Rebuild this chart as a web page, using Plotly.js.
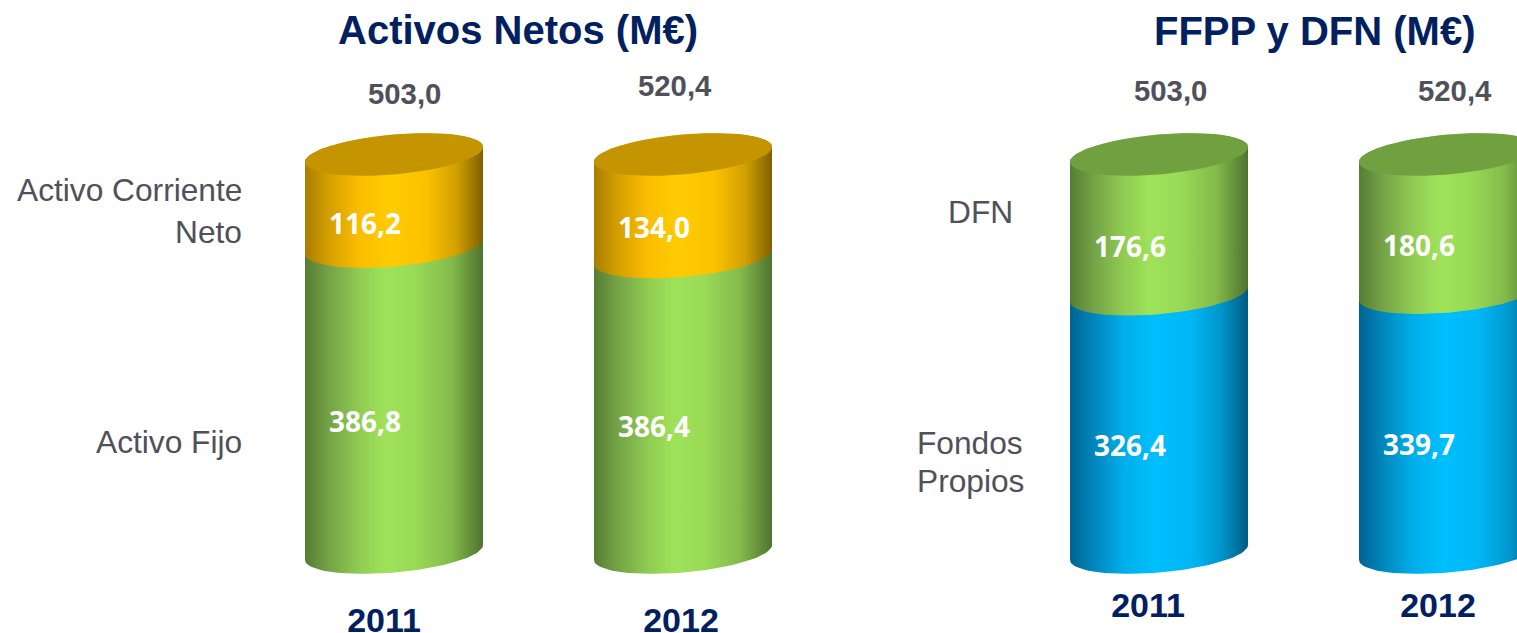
<!DOCTYPE html>
<html><head><meta charset="utf-8">
<script src="https://cdn.plot.ly/plotly-3.0.1.min.js"></script>
<style>html,body{margin:0;padding:0;background:#fff;overflow:hidden}#c{width:1517px;height:633px}</style>
</head><body><div id="c"></div>
<script>
// ---- data ----
var years = ['2011', '2012'];
var activoFijo = [386.8, 386.4];
var activoCorriente = [116.2, 134.0];
var fondosPropios = [326.4, 339.7];
var dfn = [176.6, 180.6];
var totalsLeft = [503.0, 520.4];
var totalsRight = [503.0, 520.4];
var titleLeft = 'Activos Netos (M€)';
var titleRight = 'FFPP y DFN (M€)';

// ---- styling ----
var W = 1517, H = 633, PLOT_H = 582;
var PX_PER_X = 289, PX_PER_Y = 3.98;
var HALF_W = 89 / PX_PER_X, TILT = 7.5 / PX_PER_Y, SEMI = 20 / PX_PER_Y;
var NAVY = '#002060', GREY = '#50505a';
var SANS = '"Liberation Sans", Arial, sans-serif';
var LABEL = '"Open Sans", sans-serif';
var gradGreen = [[0,'#557d33'],[0.12,'#729f45'],[0.3,'#8fcb52'],[0.45,'#9fe25a'],[0.62,'#99da56'],[0.82,'#84bb4b'],[1,'#4f7330']];
var gradOrange = [[0,'#a87c00'],[0.12,'#d19c00'],[0.3,'#fbbd00'],[0.48,'#ffcc00'],[0.68,'#fcc100'],[0.85,'#d2a000'],[1,'#7f6000']];
var gradBlue = [[0,'#00638f'],[0.12,'#0083b8'],[0.3,'#00aee8'],[0.48,'#00bfff'],[0.68,'#00b6f4'],[0.85,'#0096cb'],[1,'#005a80']];
var capOrange = '#c49500', capGreen = '#70a040';

function arc(cx, yc, from, to) {
  var xs = [], ys = [];
  for (var i = 0; i <= 48; i++) {
    var t = from + (to - from) * i / 48;
    xs.push(cx + HALF_W * Math.cos(t));
    ys.push(yc + TILT * Math.cos(t) + SEMI * Math.sin(t));
  }
  return {x: xs, y: ys};
}
function bodyTrace(cx, y0, y1, grad, xa, ya) {
  var low = arc(cx, y0, Math.PI, 2 * Math.PI);
  var up = arc(cx, y1, 0, Math.PI);
  return {type:'scatter', mode:'lines', x: low.x.concat(up.x), y: low.y.concat(up.y),
    fill:'toself', fillgradient:{type:'horizontal', colorscale:grad}, line:{width:0},
    hoverinfo:'skip', showlegend:false, xaxis:xa, yaxis:ya};
}
function capTrace(cx, y, color, xa, ya) {
  var c = arc(cx, y, 0, 2 * Math.PI);
  return {type:'scatter', mode:'lines', x:c.x, y:c.y, fill:'toself', fillcolor:color, line:{width:0},
    hoverinfo:'skip', showlegend:false, xaxis:xa, yaxis:ya};
}
function barTrace(name, vals, color, xa, ya) {
  return {type:'bar', name:name, x:[0,1], y:vals, width:0.5, marker:{color:color,line:{width:0}},
    hoverinfo:'skip', showlegend:false, xaxis:xa, yaxis:ya};
}
function cylinders(lower, upper, gradLow, gradUp, cap, xa, ya) {
  var out = [];
  lower.forEach(function (v, i) {
    var share = 100 * v / (v + upper[i]);
    out.push(bodyTrace(i, 0, share + 1, gradLow, xa, ya));
    out.push(bodyTrace(i, share, 100, gradUp, xa, ya));
    out.push(capTrace(i, 100, cap, xa, ya));
  });
  return out;
}
var data = [
  barTrace('Activo Fijo', activoFijo, '#8cc750', 'x', 'y'),
  barTrace('Activo Corriente Neto', activoCorriente, '#fbbd00', 'x', 'y'),
  barTrace('Fondos Propios', fondosPropios, '#00aee8', 'x2', 'y2'),
  barTrace('DFN', dfn, '#8cc750', 'x2', 'y2')
].concat(
  cylinders(activoFijo, activoCorriente, gradGreen, gradOrange, capOrange, 'x', 'y'),
  cylinders(fondosPropios, dfn, gradBlue, gradGreen, capGreen, 'x2', 'y2')
);

function num(v) { return v.toFixed(1).replace('.', ','); }
function ann(text, px, py, size, color, bold, anchor, family) {
  return {text: bold ? '<b>' + text + '</b>' : text, x: px / W, y: (PLOT_H - py) / PLOT_H, xref:'paper', yref:'paper',
    xanchor: anchor || 'center', yanchor:'middle', showarrow:false,
    font:{family: family || SANS, size:size, color:color}};
}
var annotations = [
  ann(titleLeft, 518, 30, 40, NAVY, true),
  ann(titleRight, 1315, 31, 40, NAVY, true),
  ann(num(totalsLeft[0]), 404, 94, 29.3, GREY, true),
  ann(num(totalsLeft[1]), 675, 85, 29.3, GREY, true),
  ann(num(totalsRight[0]), 1170, 90, 29.3, GREY, true),
  ann(num(totalsRight[1]), 1455, 90, 29.3, GREY, true),
  ann('Activo Corriente', 244, 190, 31.7, GREY, false, 'right'),
  ann('Neto', 244, 232, 31.7, GREY, false, 'right'),
  ann('Activo Fijo', 244, 442, 31.7, GREY, false, 'right'),
  ann('DFN', 946, 212, 31.7, GREY, false, 'left'),
  ann('Fondos', 915, 443, 31.7, GREY, false, 'left'),
  ann('Propios', 915, 481, 31.7, GREY, false, 'left'),
  ann(num(activoCorriente[0]), 365, 223, 28, '#fff', true, 'center', LABEL),
  ann(num(activoFijo[0]), 365, 421, 28, '#fff', true, 'center', LABEL),
  ann(num(activoCorriente[1]), 654, 227, 28, '#fff', true, 'center', LABEL),
  ann(num(activoFijo[1]), 654, 426, 28, '#fff', true, 'center', LABEL),
  ann(num(dfn[0]), 1130, 246, 28, '#fff', true, 'center', LABEL),
  ann(num(fondosPropios[0]), 1130, 445, 28, '#fff', true, 'center', LABEL),
  ann(num(dfn[1]), 1419, 245, 28, '#fff', true, 'center', LABEL),
  ann(num(fondosPropios[1]), 1419, 444, 28, '#fff', true, 'center', LABEL)
];
var yRange = [-(PLOT_H - 552.5) / PX_PER_Y, 552.5 / PX_PER_Y];
function xAxis(domain, x0, tickPx, standoff, anchor) {
  return {domain: domain, anchor: anchor,
    range: [(domain[0] * W - x0) / PX_PER_X, (domain[1] * W - x0) / PX_PER_X],
    tickmode:'array', tickvals: tickPx.map(function (p) { return (p - x0) / PX_PER_X; }), ticktext: years,
    ticks:'', ticklabelstandoff: standoff, showgrid:false, zeroline:false, showline:false,
    tickfont:{family:SANS, size:34, color:NAVY, weight:'bold'}};
}
var layout = {
  width:W, height:H, margin:{l:0,r:0,t:0,b:H-PLOT_H,pad:0}, paper_bgcolor:'#fff', plot_bgcolor:'rgba(0,0,0,0)',
  barmode:'stack', barnorm:'percent', showlegend:false,
  xaxis: xAxis([0,0.56], 394, [384,681], 15, 'y'),
  xaxis2: xAxis([0.56,1], 1159, [1148,1438], 0, 'y2'),
  yaxis: {domain:[0,1], range:yRange, visible:false, anchor:'x'},
  yaxis2: {domain:[0,1], range:yRange, visible:false, anchor:'x2'},
  annotations: annotations
};
Plotly.newPlot('c', data, layout, {displayModeBar:false, staticPlot:true});
</script></body></html>
